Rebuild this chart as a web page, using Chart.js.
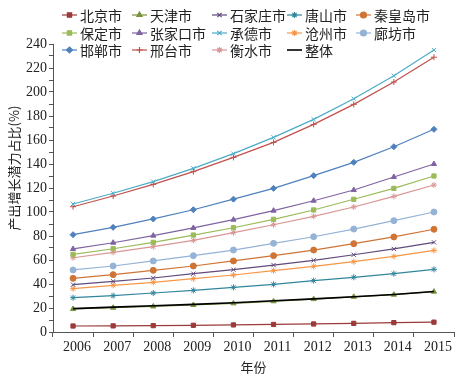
<!DOCTYPE html>
<html>
<head>
<meta charset="utf-8">
<script src="https://cdn.jsdelivr.net/npm/chart.js@4"></script>
<style>
  html, body { margin: 0; padding: 0; background: #fff; }
  #wrap { width: 475px; height: 375px; position: relative; }
</style>
</head>
<body>
<div id="wrap"><canvas id="chart" width="475" height="375"></canvas></div>
<script>
// years on x axis
const years = ["2006", "2007", "2008", "2009", "2010", "2011", "2012", "2013", "2014", "2015"];

// values (%)
const beijing      = [5.0, 5.1, 5.3, 5.6, 5.9, 6.3, 6.7, 7.2, 7.8, 8.2];
const tianjin      = [19.2, 20.2, 21.3, 22.5, 23.9, 25.6, 27.4, 29.3, 31.1, 33.6];
const shijiazhuang = [39.4, 42.2, 45.0, 48.6, 51.9, 55.8, 59.7, 64.4, 69.2, 74.7];
const tangshan     = [28.6, 30.3, 32.5, 34.7, 37.2, 39.7, 42.8, 45.6, 48.6, 52.2];
const qinhuangdao  = [44.7, 47.8, 51.4, 55.0, 59.2, 63.6, 68.3, 73.6, 79.2, 85.6];
const baoding      = [64.7, 69.4, 74.7, 80.8, 86.9, 93.9, 101.7, 110.6, 119.7, 130.0];
const zhangjiakou  = [69.2, 74.4, 80.3, 86.7, 93.6, 101.1, 109.4, 118.3, 129.2, 140.0];
const chengde      = [106.7, 115.6, 125.3, 136.4, 148.6, 162.2, 177.2, 194.4, 213.6, 235.0];
const cangzhou     = [36.1, 38.9, 41.4, 44.4, 47.5, 51.1, 54.7, 58.6, 63.0, 68.0];
const langfang     = [51.7, 55.0, 59.2, 63.6, 68.3, 73.9, 79.4, 85.8, 92.8, 100.0];
const handan       = [81.1, 87.2, 94.2, 101.9, 110.7, 119.7, 130.3, 141.4, 154.4, 168.9];
const xingtai      = [104.4, 113.3, 123.0, 133.6, 145.5, 158.0, 173.0, 189.7, 208.3, 229.0];
const hengshui     = [61.9, 66.4, 71.1, 76.4, 82.8, 89.4, 96.4, 104.2, 113.0, 122.5];
const overall      = [19.5, 20.7, 21.9, 23.0, 24.4, 26.0, 27.6, 29.4, 31.3, 33.8];

const yMin = 0, yMax = 240, yStep = 10, yLabelStep = 20;
const yTitle = "产出增长潜力占比(%)";

const series = [
    { label: "北京市",   data: beijing,      color: "#9B3A3A", style: "rect" },
    { label: "天津市",   data: tianjin,      color: "#77933C", style: "triangle" },
    { label: "石家庄市", data: shijiazhuang, color: "#604A7B", style: "crossRot" },
    { label: "唐山市",   data: tangshan,     color: "#31859C", style: "star" },
    { label: "秦皇岛市", data: qinhuangdao,  color: "#D07436", style: "circle" },
    { label: "保定市",   data: baoding,      color: "#9BBB59", style: "rect" },
    { label: "张家口市", data: zhangjiakou,  color: "#8064A2", style: "triangle" },
    { label: "承德市",   data: chengde,      color: "#4BACC6", style: "crossRot" },
    { label: "沧州市",   data: cangzhou,     color: "#F79646", style: "star" },
    { label: "廊坊市",   data: langfang,     color: "#95B3D7", style: "circle" },
    { label: "邯郸市",   data: handan,       color: "#4F81BD", style: "rectRot" },
    { label: "邢台市",   data: xingtai,      color: "#C0504D", style: "cross" },
    { label: "衡水市",   data: hengshui,     color: "#D99694", style: "star" },
    { label: "整体",     data: overall,      color: "#000000", style: false },
];

const serif = "'Liberation Serif', 'Times New Roman', serif";
const cjk = "'Noto Sans CJK SC', sans-serif";
const axisColor = "#555";

// legend drawn on canvas, overlapping the top of the plot like the original
const gridLegend = {
    id: "gridLegend",
    afterDraw(chart) {
        const ctx = chart.ctx;
        const cols = [62, 132, 212, 287, 356];
        const rows = [15, 33, 50];
        ctx.save();
        ctx.font = "14px " + cjk;
        ctx.textBaseline = "middle";
        ctx.textAlign = "left";
        chart.data.datasets.forEach((ds, i) => {
            const x = cols[i % 5];
            const y = rows[Math.floor(i / 5)];
            ctx.strokeStyle = ds.borderColor;
            ctx.fillStyle = ds.borderColor;
            ctx.lineWidth = ds.pointStyle ? 1.2 : 1.6;
            ctx.beginPath();
            ctx.moveTo(x, y);
            ctx.lineTo(x + 15, y);
            ctx.stroke();
            if (ds.pointStyle) {
                Chart.helpers.drawPoint(ctx, {
                    pointStyle: ds.pointStyle, radius: 3, rotation: 0, borderWidth: 1
                }, x + 7.5, y);
            }
            ctx.fillStyle = "#222";
            ctx.fillText(ds.label, x + 18, y + 1);
        });

        // y axis title sits a bit above the plot middle in the original
        ctx.translate(14, 168);
        ctx.rotate(-Math.PI / 2);
        ctx.font = "13px " + cjk;
        ctx.textAlign = "center";
        ctx.fillText(yTitle, 0, 0);
        ctx.restore();
    }
};

new Chart(document.getElementById("chart"), {
    type: "line",
    data: {
        labels: years,
        datasets: series.map(s => ({
            label: s.label,
            data: s.data,
            borderColor: s.color,
            backgroundColor: s.color,
            pointBorderColor: s.color,
            pointBackgroundColor: s.color,
            borderWidth: s.style ? 1.2 : 1.6,
            pointStyle: s.style,
            pointRadius: s.style ? 3 : 0,
            pointBorderWidth: 1,
            tension: 0,
            order: s.style ? 0 : -1,
        }))
    },
    options: {
        responsive: false,
        animation: false,
        devicePixelRatio: 1,
        layout: { padding: { left: 0, top: 44, right: 21, bottom: 0 } },
        plugins: {
            legend: { display: false },
            tooltip: { enabled: false },
        },
        scales: {
            x: {
                offset: true,
                grid: {
                    offset: true, drawOnChartArea: false, drawTicks: true,
                    tickLength: 5, color: axisColor
                },
                border: { color: axisColor, width: 1 },
                ticks: {
                    color: "#222", font: { family: serif, size: 14 },
                    padding: 2, labelOffset: 4, maxRotation: 0, autoSkip: false
                },
                title: {
                    display: true, text: "年份", color: "#222",
                    font: { family: cjk, size: 13 }, padding: { top: 9, bottom: 0 }
                },
                afterFit: (scale) => { scale.height = 43; }
            },
            y: {
                min: yMin, max: yMax,
                grid: { drawOnChartArea: false, drawTicks: true, tickLength: 4, color: axisColor },
                border: { color: axisColor, width: 1 },
                ticks: {
                    stepSize: yStep, autoSkip: false, color: "#222",
                    font: { family: serif, size: 14 }, padding: 2,
                    callback: (v) => (v % yLabelStep === 0 ? v : "")
                },
                afterFit: (scale) => { scale.width = 53; }
            }
        }
    },
    plugins: [gridLegend]
});
</script>
</body>
</html>
